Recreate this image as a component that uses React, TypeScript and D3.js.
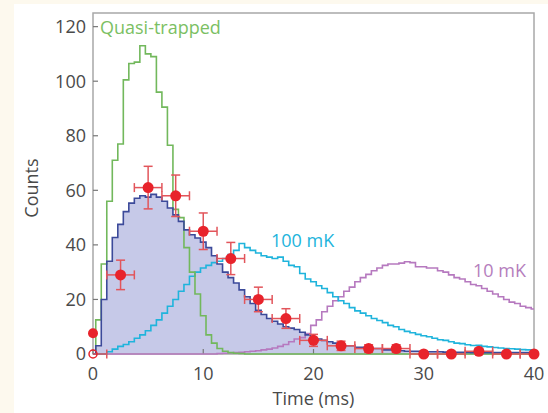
import React from "react";
import * as d3 from "d3";

// ---------- data ----------
const binWidth = 0.5;
const binCenters: number[] = d3.range(0, 40.001, binWidth); // 81 bins centred on 0, 0.5, ... 40

const quasiTrapped = [
  0, 12.5, 33, 56, 71, 77, 100.5, 106.5, 107, 113,
  110, 109, 96, 90.5, 76.5, 53, 50, 39, 30, 22,
  14, 7, 4, 2, 1, 0.5, 0.3, 0.2, 0, 0,
  0, 0, 0, 0, 0, 0, 0, 0, 0, 0,
  0, 0, 0, 0, 0, 0, 0, 0, 0, 0,
  0, 0, 0, 0, 0, 0, 0, 0, 0, 0,
  0, 0, 0, 0, 0, 0, 0, 0, 0, 0,
  0, 0, 0, 0, 0, 0, 0, 0, 0, 0, 0,
];

const measuredHist = [
  0, 3, 20, 34, 42.7, 47.5, 52.2, 55.3, 57.1, 58,
  57.5, 58.5, 57.5, 56, 53.5, 51, 48.6, 45.5, 43.7, 42.5,
  41, 39, 36, 33, 30, 28, 26, 23.5, 21, 18.5,
  16, 14.5, 13, 12, 11, 10, 9.5, 9, 8, 7,
  6, 5.5, 5, 4.5, 4, 3.5, 3, 3, 2.5, 2.5,
  2, 2, 2, 1.5, 1.5, 1.5, 1.2, 1, 1, 1,
  1, 0.8, 0.8, 0.8, 0.7, 0.7, 0.6, 0.6, 0.6, 0.5,
  0.5, 0.5, 0.5, 0.5, 0.5, 0.5, 0.5, 0.5, 0.5, 0.5, 0.5,
];

const hist100mK = [
  0, 0, 0, 0.8, 1.8, 2.8, 3.5, 4.5, 5.8, 7,
  8.5, 10.5, 12.5, 15, 17.5, 20, 23, 25.5, 28.5, 30,
  31.5, 32.5, 33.5, 34, 35, 36.5, 38, 40.5, 39, 38,
  37, 36, 35.5, 35, 35.5, 34, 32.5, 32, 29.5, 27.5,
  26.5, 25, 24, 22.5, 21, 19.5, 18.5, 17, 15.8, 15,
  14, 13, 12.3, 11.5, 10.5, 10, 9, 8.3, 7.8, 7.2,
  6.7, 6.3, 5.8, 5.2, 5, 4.5, 4, 3.8, 3.4, 3.1,
  3.2, 2.8, 2.6, 2.4, 2.2, 2, 1.9, 1.8, 1.6, 1.5, 1.5,
];

const hist10mK = [
  0, 0, 0, 0, 0, 0, 0, 0, 0, 0,
  0, 0, 0, 0, 0, 0, 0, 0, 0, 0,
  0, 0, 0, 0.2, 0.3, 0.4, 0.5, 0.6, 0.8, 1,
  1.2, 1.5, 1.8, 2.2, 2.8, 3.5, 4.5, 5.5, 6, 7.5,
  10.5, 12.5, 15.5, 17.5, 19.5, 21, 23, 24.5, 26.5, 28,
  29.2, 30.5, 31.5, 32.5, 33, 33, 33.3, 33.8, 33.5, 32,
  32, 31.5, 31.5, 30.5, 30, 29, 28, 27.5, 26.5, 25.5,
  25, 24, 23, 22, 21, 20, 19, 18.5, 17.5, 17, 16.5,
];

const pointTimes = [2.5, 5, 7.5, 10, 12.5, 15, 17.5, 20, 22.5, 25, 27.5, 30, 32.5, 35, 37.5, 40];
const pointCounts = [29, 61, 58, 45, 35, 20, 13, 5, 3, 2, 2, 0, 0, 1, 0, 0];
const countErrors = [5.4, 7.8, 7.6, 6.7, 5.9, 4.5, 3.6, 2.2, 1.7, 1.4, 1.4, 0, 0, 1, 0, 0];
const timeError = 1.25;
const startPoint = { t: 0, c: 7.6 };
const hollowPoint = { t: 0, c: 0 };

const xTicks = [0, 10, 20, 30, 40];
const yTicks = [0, 20, 40, 60, 80, 100, 120];

// ---------- layout ----------
const W = 548;
const H = 413;
const x = d3.scaleLinear().domain([0, 40]).range([93, 534]);
const y = d3.scaleLinear().domain([0, 125]).range([354, 13]);

const FONT = "'Open Sans', 'DejaVu Sans', sans-serif";
const TXT = "#4a4a4a";

function steps(values: number[]): [number, number][] {
  const pts: [number, number][] = [[0, 0]];
  binCenters.forEach((t, i) => {
    pts.push([Math.max(0, t - binWidth / 2), values[i]]);
    pts.push([Math.min(40, t + binWidth / 2), values[i]]);
  });
  return pts;
}

const line = d3
  .line<[number, number]>()
  .x((d) => x(d[0]))
  .y((d) => y(d[1]));
const area = d3
  .area<[number, number]>()
  .x((d) => x(d[0]))
  .y0(y(0))
  .y1((d) => y(d[1]));

const RED = "#e8232b";
const ERR = "#e2555b";
const CAP = 4.5;

export default function App() {
  const blueSteps = steps(measuredHist);
  return (
    <>
      <style>{`body{margin:0}`}</style>
      <svg width={W} height={H} style={{ display: "block" }}>
        <rect x={0} y={0} width={W} height={H} fill="#fdf9ee" />
        <rect x={14} y={4} width={W - 14} height={H - 4} fill="#ffffff" />

        {/* measured histogram (filled) */}
        <path d={area(blueSteps) || ""} fill="#c6c9e8" stroke="none" />

        {/* frame */}
        <rect
          x={x(0)}
          y={y(125)}
          width={x(40) - x(0)}
          height={y(0) - y(125)}
          fill="none"
          stroke="#a8a8a8"
          strokeWidth={1.5}
        />

        {/* ticks */}
        {yTicks.map((v) => (
          <g key={"y" + v}>
            <line x1={x(0)} x2={x(0) + 5} y1={y(v)} y2={y(v)} stroke="#777" strokeWidth={1.2} />
            <text
              x={86}
              y={y(v)}
              dy="0.35em"
              textAnchor="end"
              fontFamily={FONT}
              fontSize={18}
              fill={TXT}
            >
              {v}
            </text>
          </g>
        ))}
        {xTicks.map((v) => (
          <g key={"x" + v}>
            <line x1={x(v)} x2={x(v)} y1={y(0)} y2={y(0) - 5} stroke="#777" strokeWidth={1.2} />
            <text
              x={x(v)}
              y={380}
              textAnchor="middle"
              fontFamily={FONT}
              fontSize={18}
              fill={TXT}
            >
              {v}
            </text>
          </g>
        ))}

        {/* simulated histograms */}
        <path d={line(steps(hist10mK)) || ""} fill="none" stroke="#b679bf" strokeWidth={1.6} />
        <path d={line(steps(hist100mK)) || ""} fill="none" stroke="#1fb4dc" strokeWidth={1.6} />
        <path d={line(steps(quasiTrapped)) || ""} fill="none" stroke="#72b85c" strokeWidth={1.6} />
        <path d={line(blueSteps) || ""} fill="none" stroke="#3c4a9a" strokeWidth={1.6} />

        {/* data points */}
        {pointTimes.map((t, i) => {
          const c = pointCounts[i];
          const e = countErrors[i];
          return (
            <g key={"p" + i}>
              <line x1={x(t - timeError)} x2={x(Math.min(40, t + timeError))} y1={y(c)} y2={y(c)} stroke={ERR} strokeWidth={1.5} />
              <line x1={x(t - timeError)} x2={x(t - timeError)} y1={y(c) - CAP} y2={y(c) + CAP} stroke={ERR} strokeWidth={1.5} />
              {t + timeError <= 40 && (
                <line x1={x(t + timeError)} x2={x(t + timeError)} y1={y(c) - CAP} y2={y(c) + CAP} stroke={ERR} strokeWidth={1.5} />
              )}
              {e > 0 && (
                <>
                  <line x1={x(t)} x2={x(t)} y1={y(c - e)} y2={y(c + e)} stroke={ERR} strokeWidth={1.5} />
                  <line x1={x(t) - CAP} x2={x(t) + CAP} y1={y(c + e)} y2={y(c + e)} stroke={ERR} strokeWidth={1.5} />
                  <line x1={x(t) - CAP} x2={x(t) + CAP} y1={y(c - e)} y2={y(c - e)} stroke={ERR} strokeWidth={1.5} />
                </>
              )}
              <circle cx={x(t)} cy={y(c)} r={5.5} fill={RED} />
            </g>
          );
        })}
        <g>
          <line x1={x(hollowPoint.t)} x2={x(hollowPoint.t + timeError)} y1={y(hollowPoint.c)} y2={y(hollowPoint.c)} stroke={ERR} strokeWidth={1.5} />
          <line x1={x(hollowPoint.t + timeError)} x2={x(hollowPoint.t + timeError)} y1={y(hollowPoint.c) - CAP} y2={y(hollowPoint.c) + CAP} stroke={ERR} strokeWidth={1.5} />
          <circle cx={x(hollowPoint.t)} cy={y(hollowPoint.c)} r={4} fill="none" stroke={RED} strokeWidth={1.5} />
          <circle cx={x(startPoint.t)} cy={y(startPoint.c)} r={5} fill={RED} />
        </g>

        {/* labels */}
        <text x={100} y={34} fontFamily={FONT} fontSize={18} fill="#7bbf63">
          Quasi-trapped
        </text>
        <text x={271} y={247} fontFamily={FONT} fontSize={18} fill="#22b4dc">
          100 mK
        </text>
        <text x={473} y={277} fontFamily={FONT} fontSize={18} fill="#b57ebd">
          10 mK
        </text>
        <text
          transform={`translate(38,188) rotate(-90)`}
          textAnchor="middle"
          fontFamily={FONT}
          fontSize={18}
          fill={TXT}
        >
          Counts
        </text>
        <text x={x(20)} y={405} textAnchor="middle" fontFamily={FONT} fontSize={18} fill={TXT}>
          Time (ms)
        </text>
      </svg>
    </>
  );
}
